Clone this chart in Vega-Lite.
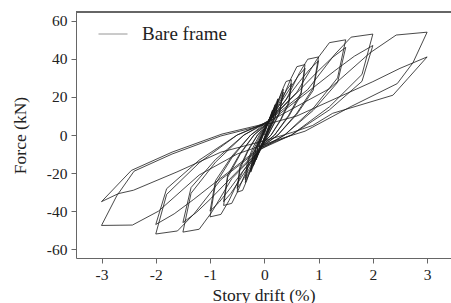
{
  "$schema": "https://vega.github.io/schema/vega-lite/v6.json",
  "width": 375,
  "height": 246,
  "autosize": {"type": "none"},
  "padding": {"left": 76, "top": 12, "right": 0, "bottom": 45},
  "background": "white",
  "config": {
    "view": {"stroke": null},
    "font": "Liberation Serif",
    "axis": {
      "grid": false,
      "domainColor": "#666",
      "tickColor": "#666",
      "tickSize": 5,
      "labelFont": "Liberation Serif",
      "labelFontSize": 15.5,
      "labelColor": "#222",
      "titleFont": "Liberation Serif",
      "titleFontSize": 17.5,
      "titleFontWeight": "normal",
      "titleColor": "#222"
    },
    "legend": {
      "orient": "none",
      "legendX": 22,
      "legendY": 7,
      "padding": 0,
      "symbolType": "stroke",
      "symbolSize": 841,
      "symbolStrokeWidth": 1,
      "symbolOpacity": 0.45,
      "labelFont": "Liberation Serif",
      "labelFontSize": 19,
      "labelColor": "#222",
      "labelOffset": 14,
      "title": null
    }
  },
  "data": {"values": [
    {"i":0,"x":0,"y":0},{"i":1,"x":0.05,"y":5},{"i":2,"x":0.1,"y":9},{"i":3,"x":0.08,"y":4.5},{"i":4,"x":0.02,"y":0},{"i":5,"x":-0.05,"y":-5},{"i":6,"x":-0.1,"y":-9},{"i":7,"x":-0.08,"y":-4.5},{"i":8,"x":-0.02,"y":0},{"i":9,"x":0.05,"y":4.7},{"i":10,"x":0.1,"y":8.5},{"i":11,"x":0.08,"y":4.25},{"i":12,"x":0.02,"y":0},{"i":13,"x":-0.05,"y":-4.7},{"i":14,"x":-0.1,"y":-8.5},
    {"i":15,"x":-0.08,"y":-4.25},{"i":16,"x":-0.02,"y":0},{"i":17,"x":0.075,"y":7.15},{"i":18,"x":0.15,"y":13},{"i":19,"x":0.12,"y":6.5},{"i":20,"x":0.03,"y":0},{"i":21,"x":-0.075,"y":-7.15},{"i":22,"x":-0.15,"y":-13},{"i":23,"x":-0.12,"y":-6.5},{"i":24,"x":-0.03,"y":0},{"i":25,"x":0.075,"y":6.6},{"i":26,"x":0.15,"y":12},{"i":27,"x":0.12,"y":6},{"i":28,"x":0.03,"y":0},{"i":29,"x":-0.075,"y":-6.6},{"i":30,"x":-0.15,"y":-12},
    {"i":31,"x":-0.12,"y":-6},{"i":32,"x":-0.03,"y":0},{"i":33,"x":0.1,"y":8.8},{"i":34,"x":0.2,"y":16},{"i":35,"x":0.16,"y":8},{"i":36,"x":0.04,"y":0},{"i":37,"x":-0.1,"y":-8.8},{"i":38,"x":-0.2,"y":-16},{"i":39,"x":-0.16,"y":-8},{"i":40,"x":-0.04,"y":0},{"i":41,"x":0.1,"y":8.25},{"i":42,"x":0.2,"y":15},{"i":43,"x":0.16,"y":7.5},{"i":44,"x":0.04,"y":0},{"i":45,"x":-0.1,"y":-8.25},{"i":46,"x":-0.2,"y":-15},
    {"i":47,"x":-0.16,"y":-7.5},{"i":48,"x":-0.04,"y":0},{"i":49,"x":0.125,"y":10.45},{"i":50,"x":0.25,"y":19},{"i":51,"x":0.2,"y":9.5},{"i":52,"x":0.05,"y":0},{"i":53,"x":-0.125,"y":-10.7},{"i":54,"x":-0.25,"y":-19.5},{"i":55,"x":-0.2,"y":-9.75},{"i":56,"x":-0.05,"y":0},{"i":57,"x":0.125,"y":9.9},{"i":58,"x":0.25,"y":18},{"i":59,"x":0.2,"y":9},{"i":60,"x":0.05,"y":0},{"i":61,"x":-0.125,"y":-10.2},{"i":62,"x":-0.25,"y":-18.5},
    {"i":63,"x":-0.2,"y":-9.25},{"i":64,"x":-0.05,"y":0},{"i":65,"x":0.175,"y":13.2},{"i":66,"x":0.35,"y":24},{"i":67,"x":0.28,"y":12},{"i":68,"x":0.07,"y":0},{"i":69,"x":-0.175,"y":-13.75},{"i":70,"x":-0.35,"y":-25},{"i":71,"x":-0.28,"y":-12.5},{"i":72,"x":-0.07,"y":0},{"i":73,"x":0.175,"y":12.4},{"i":74,"x":0.35,"y":22.5},{"i":75,"x":0.28,"y":11.25},{"i":76,"x":0.07,"y":0},{"i":77,"x":-0.175,"y":-12.9},{"i":78,"x":-0.35,"y":-23.5},
    {"i":79,"x":-0.315,"y":-14.1},{"i":80,"x":-0.21,"y":-6.6},{"i":81,"x":-0.09,"y":0},{"i":82,"x":0.025,"y":4.35},{"i":83,"x":0.2,"y":13.05},{"i":84,"x":0.325,"y":23.2},{"i":85,"x":0.4,"y":28.1},{"i":86,"x":0.5,"y":29},{"i":87,"x":0.45,"y":17.4},{"i":88,"x":0.3,"y":8.1},{"i":89,"x":0.125,"y":0},{"i":90,"x":-0.025,"y":-4.5},{"i":91,"x":-0.2,"y":-13.5},{"i":92,"x":-0.325,"y":-24},{"i":93,"x":-0.4,"y":-29.1},{"i":94,"x":-0.5,"y":-30},
    {"i":95,"x":-0.45,"y":-18},{"i":96,"x":-0.3,"y":-8.4},{"i":97,"x":-0.125,"y":0},{"i":98,"x":0.025,"y":4.05},{"i":99,"x":0.2,"y":13},{"i":100,"x":0.325,"y":19.4},{"i":101,"x":0.415,"y":23.8},{"i":102,"x":0.5,"y":27},{"i":103,"x":0.45,"y":16.2},{"i":104,"x":0.3,"y":7.6},{"i":105,"x":0.125,"y":0},{"i":106,"x":-0.025,"y":-4.2},{"i":107,"x":-0.2,"y":-13.4},{"i":108,"x":-0.325,"y":-20.2},{"i":109,"x":-0.415,"y":-24.6},{"i":110,"x":-0.5,"y":-28},
    {"i":111,"x":-0.45,"y":-16.8},{"i":112,"x":-0.3,"y":-7.8},{"i":113,"x":-0.125,"y":0},{"i":114,"x":0.04,"y":5.6},{"i":115,"x":0.3,"y":16.7},{"i":116,"x":0.49,"y":29.6},{"i":117,"x":0.6,"y":35.9},{"i":118,"x":0.75,"y":37},{"i":119,"x":0.675,"y":22.2},{"i":120,"x":0.45,"y":10.4},{"i":121,"x":0.19,"y":0},{"i":122,"x":-0.04,"y":-5.6},{"i":123,"x":-0.3,"y":-16.7},{"i":124,"x":-0.49,"y":-29.6},{"i":125,"x":-0.6,"y":-35.9},{"i":126,"x":-0.75,"y":-37},
    {"i":127,"x":-0.675,"y":-22.2},{"i":128,"x":-0.45,"y":-10.4},{"i":129,"x":-0.19,"y":0},{"i":130,"x":0.04,"y":5.25},{"i":131,"x":0.3,"y":16.8},{"i":132,"x":0.49,"y":25.2},{"i":133,"x":0.62,"y":30.8},{"i":134,"x":0.75,"y":35},{"i":135,"x":0.675,"y":21},{"i":136,"x":0.45,"y":9.8},{"i":137,"x":0.19,"y":0},{"i":138,"x":-0.04,"y":-5.25},{"i":139,"x":-0.3,"y":-16.8},{"i":140,"x":-0.49,"y":-25.2},{"i":141,"x":-0.62,"y":-30.8},{"i":142,"x":-0.75,"y":-35},
    {"i":143,"x":-0.675,"y":-21},{"i":144,"x":-0.45,"y":-9.8},{"i":145,"x":-0.19,"y":0},{"i":146,"x":0.05,"y":6.15},{"i":147,"x":0.4,"y":18.45},{"i":148,"x":0.65,"y":32.8},{"i":149,"x":0.8,"y":39.8},{"i":150,"x":1,"y":41},{"i":151,"x":0.9,"y":24.6},{"i":152,"x":0.6,"y":11.5},{"i":153,"x":0.25,"y":0},{"i":154,"x":-0.05,"y":-6.45},{"i":155,"x":-0.4,"y":-19.35},{"i":156,"x":-0.65,"y":-34.4},{"i":157,"x":-0.8,"y":-41.7},{"i":158,"x":-1,"y":-43},
    {"i":159,"x":-0.9,"y":-25.8},{"i":160,"x":-0.6,"y":-12},{"i":161,"x":-0.25,"y":0},{"i":162,"x":0.05,"y":5.85},{"i":163,"x":0.4,"y":18.7},{"i":164,"x":0.65,"y":28.1},{"i":165,"x":0.83,"y":34.3},{"i":166,"x":1,"y":39},{"i":167,"x":0.9,"y":23.4},{"i":168,"x":0.6,"y":10.9},{"i":169,"x":0.25,"y":0},{"i":170,"x":-0.05,"y":-6},{"i":171,"x":-0.4,"y":-19.2},{"i":172,"x":-0.65,"y":-28.8},{"i":173,"x":-0.83,"y":-35.2},{"i":174,"x":-1,"y":-40},
    {"i":175,"x":-0.9,"y":-24},{"i":176,"x":-0.6,"y":-11.2},{"i":177,"x":-0.25,"y":0},{"i":178,"x":0.075,"y":7.5},{"i":179,"x":0.6,"y":22.5},{"i":180,"x":0.975,"y":40},{"i":181,"x":1.2,"y":48.5},{"i":182,"x":1.5,"y":50},{"i":183,"x":1.35,"y":30},{"i":184,"x":0.9,"y":14},{"i":185,"x":0.375,"y":0},{"i":186,"x":-0.075,"y":-7.65},{"i":187,"x":-0.6,"y":-22.95},{"i":188,"x":-0.975,"y":-40.8},{"i":189,"x":-1.2,"y":-49.5},{"i":190,"x":-1.5,"y":-51},
    {"i":191,"x":-1.35,"y":-30.6},{"i":192,"x":-0.9,"y":-14.3},{"i":193,"x":-0.375,"y":0},{"i":194,"x":0.075,"y":6.9},{"i":195,"x":0.6,"y":22.1},{"i":196,"x":0.975,"y":33.1},{"i":197,"x":1.245,"y":40.5},{"i":198,"x":1.5,"y":46},{"i":199,"x":1.35,"y":27.6},{"i":200,"x":0.9,"y":12.9},{"i":201,"x":0.375,"y":0},{"i":202,"x":-0.075,"y":-6.9},{"i":203,"x":-0.6,"y":-22.1},{"i":204,"x":-0.975,"y":-33.1},{"i":205,"x":-1.245,"y":-40.5},{"i":206,"x":-1.5,"y":-46},
    {"i":207,"x":-1.35,"y":-27.6},{"i":208,"x":-0.9,"y":-12.9},{"i":209,"x":-0.375,"y":0},{"i":210,"x":0.1,"y":7.95},{"i":211,"x":0.8,"y":23.85},{"i":212,"x":1.3,"y":42.4},{"i":213,"x":1.6,"y":51.4},{"i":214,"x":2,"y":53},{"i":215,"x":1.8,"y":31.8},{"i":216,"x":1.2,"y":14.8},{"i":217,"x":0.5,"y":0},{"i":218,"x":-0.1,"y":-7.8},{"i":219,"x":-0.8,"y":-23.4},{"i":220,"x":-1.3,"y":-41.6},{"i":221,"x":-1.6,"y":-50.4},{"i":222,"x":-2,"y":-52},
    {"i":223,"x":-1.8,"y":-31.2},{"i":224,"x":-1.2,"y":-14.6},{"i":225,"x":-0.5,"y":0},{"i":226,"x":0.1,"y":7.05},{"i":227,"x":0.8,"y":22.6},{"i":228,"x":1.3,"y":33.8},{"i":229,"x":1.66,"y":41.4},{"i":230,"x":2,"y":47},{"i":231,"x":1.8,"y":28.2},{"i":232,"x":1.2,"y":13.2},{"i":233,"x":0.5,"y":0},{"i":234,"x":-0.1,"y":-7.05},{"i":235,"x":-0.8,"y":-22.6},{"i":236,"x":-1.3,"y":-33.8},{"i":237,"x":-1.66,"y":-41.4},{"i":238,"x":-2,"y":-47},
    {"i":239,"x":-1.8,"y":-28.2},{"i":240,"x":-1.2,"y":-13.2},{"i":241,"x":-0.5,"y":0},{"i":242,"x":0.15,"y":8.1},{"i":243,"x":1.2,"y":24.3},{"i":244,"x":1.95,"y":43.2},{"i":245,"x":2.43,"y":52.5},{"i":246,"x":3,"y":54},{"i":247,"x":2.74,"y":38},{"i":248,"x":2.45,"y":27},{"i":249,"x":1.6,"y":15},{"i":250,"x":0.75,"y":2},{"i":251,"x":0.3,"y":-2},{"i":252,"x":-0.5,"y":-10},{"i":253,"x":-1.2,"y":-21},{"i":254,"x":-1.95,"y":-40},{"i":255,"x":-2.43,"y":-47.3},{"i":256,"x":-3,"y":-47.5},
    {"i":257,"x":-2.72,"y":-32},{"i":258,"x":-2.4,"y":-19},{"i":259,"x":-1.7,"y":-10},{"i":260,"x":-0.8,"y":-0.5},{"i":261,"x":0.03,"y":5.5},{"i":262,"x":0.6,"y":10},{"i":263,"x":1.3,"y":19},{"i":264,"x":2,"y":28},{"i":265,"x":2.5,"y":35},{"i":266,"x":3,"y":41},{"i":267,"x":2.65,"y":29.8},{"i":268,"x":2.37,"y":20.9},{"i":269,"x":1.26,"y":11.4},{"i":270,"x":0.89,"y":5},{"i":271,"x":0.52,"y":1.4},{"i":272,"x":0.03,"y":-2.8},{"i":273,"x":-0.8,"y":-9},{"i":274,"x":-1.61,"y":-19.4},{"i":275,"x":-2.41,"y":-29},{"i":276,"x":-2.69,"y":-30.8},{"i":277,"x":-3,"y":-35},
    {"i":278,"x":-2.45,"y":-18.6},{"i":279,"x":-1.7,"y":-9},{"i":280,"x":-0.78,"y":0.5},{"i":281,"x":0.03,"y":6}
  ]},
  "layer": [
    {
      "mark": {"type": "rule", "color": "#666", "strokeWidth": 1},
      "encoding": {"y": {"datum": 64.6, "type": "quantitative"}}
    },
    {
      "mark": {"type": "line", "strokeWidth": 0.8, "strokeJoin": "miter"},
      "encoding": {
        "x": {
          "field": "x", "type": "quantitative",
          "scale": {"domain": [-3.47, 3.44], "nice": false, "zero": false},
          "axis": {"values": [-3, -2, -1, 0, 1, 2, 3], "title": "Story drift (%)", "labelPadding": 4, "titlePadding": 4,
                   "labelExpr": "replace(datum.label, '\u2212', '-')"}
        },
        "y": {
          "field": "y", "type": "quantitative",
          "scale": {"domain": [-64.6, 64.6], "nice": false, "zero": false},
          "axis": {"values": [-60, -40, -20, 0, 20, 40, 60], "title": "Force (kN)", "labelPadding": 4, "titlePadding": 17,
                   "labelExpr": "replace(datum.label, '\u2212', '-')"}
        },
        "order": {"field": "i", "type": "quantitative"},
        "color": {"datum": "Bare frame", "type": "nominal", "scale": {"range": ["#1a1a1a"]}}
      }
    }
  ]
}
